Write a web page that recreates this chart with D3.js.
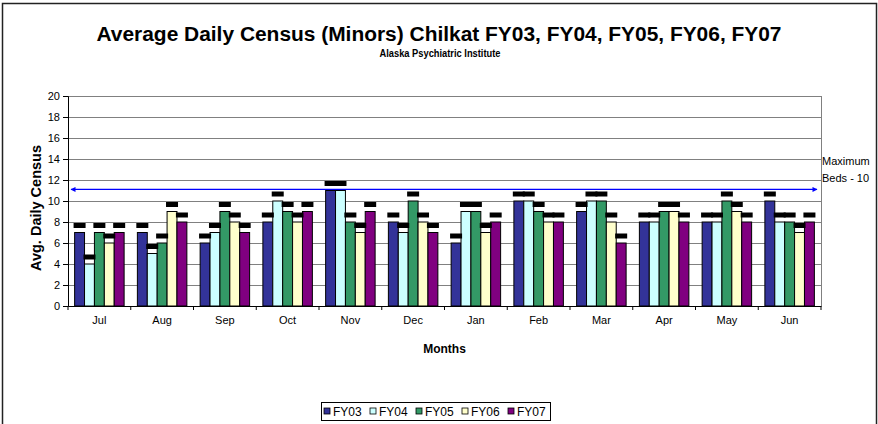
<!DOCTYPE html>
<html>
<head>
<meta charset="utf-8">
<script src="https://cdn.jsdelivr.net/npm/d3@7"></script>
<style>
  body { margin: 0; background: #fff; }
  svg { display: block; font-family: Arial, "Liberation Sans", sans-serif; }
</style>
</head>
<body>
<svg id="chart" width="878" height="424"></svg>
<script>
// chart data
var months = ["Jul", "Aug", "Sep", "Oct", "Nov", "Dec", "Jan", "Feb", "Mar", "Apr", "May", "Jun"];
var seriesNames = ["FY03", "FY04", "FY05", "FY06", "FY07"];
var fy03 = [7, 7, 6, 8, 11, 8, 6, 10, 9, 8, 8, 10];
var fy04 = [4, 5, 7, 10, 11, 7, 9, 10, 10, 8, 8, 8];
var fy05 = [7, 6, 9, 9, 8, 10, 9, 9, 10, 9, 10, 8];
var fy06 = [6, 9, 8, 8, 7, 8, 7, 8, 8, 9, 9, 7];
var fy07 = [7, 8, 7, 9, 9, 7, 8, 8, 6, 8, 8, 8];
var yTicks = [0, 2, 4, 6, 8, 10, 12, 14, 16, 18, 20];
var maxBedsLevel = 11.1;
var maxBedsText = ["Maximum", "Beds - 10"];
var colors = ["#333399", "#CCFFFF", "#339966", "#FFFFCC", "#800080"];

var seriesValues = [fy03, fy04, fy05, fy06, fy07];

var svg = d3.select("#chart");

// outer chart border
svg.append("rect")
    .attr("x", 2.5).attr("y", 3.5)
    .attr("width", 874).attr("height", 440)
    .attr("fill", "none")
    .attr("stroke", "#222")
    .attr("stroke-width", 1.5);

// titles
svg.append("text")
    .attr("x", 439).attr("y", 41)
    .attr("text-anchor", "middle")
    .attr("textLength", 685)
    .attr("lengthAdjust", "spacingAndGlyphs")
    .style("font-size", "20px")
    .style("font-weight", "bold")
    .text("Average Daily Census (Minors) Chilkat FY03, FY04, FY05, FY06, FY07");
svg.append("text")
    .attr("x", 440).attr("y", 57)
    .attr("text-anchor", "middle")
    .attr("textLength", 121)
    .attr("lengthAdjust", "spacingAndGlyphs")
    .style("font-size", "11.5px")
    .style("font-weight", "bold")
    .text("Alaska Psychiatric Institute");

// scales
var pLeft = 68, pRight = 821, pTop = 96, pBottom = 306;
var y = d3.scaleLinear().domain([0, 20]).range([pBottom, pTop]);
var x0 = d3.scaleBand().domain(months).range([pLeft, pRight]).padding(0);
var x1 = d3.scaleBand().domain(seriesNames).range([0, x0.bandwidth()])
    .paddingInner(0).paddingOuter(0.67);

// gridlines
svg.append("g").selectAll("line")
    .data(yTicks.filter(function(d) { return d > 0; }))
    .enter().append("line")
    .attr("x1", pLeft).attr("x2", pRight)
    .attr("y1", function(d) { return Math.round(y(d)) + 0.5; })
    .attr("y2", function(d) { return Math.round(y(d)) + 0.5; })
    .attr("stroke", "#808080")
    .attr("stroke-width", 1);

// right border of plot
svg.append("line")
    .attr("x1", pRight + 0.5).attr("x2", pRight + 0.5)
    .attr("y1", pTop).attr("y2", pBottom)
    .attr("stroke", "#808080");

// y axis
var yAxis = d3.axisLeft(y).tickValues(yTicks).tickSize(5).tickPadding(3);
var gY = svg.append("g").attr("transform", "translate(" + pLeft + ",0)").call(yAxis);
gY.select(".domain").attr("stroke", "#000");
gY.selectAll("text").style("font-size", "11px").attr("fill", "#000");

// bars
var groups = svg.append("g").selectAll("g")
    .data(months)
    .enter().append("g")
    .attr("transform", function(d) { return "translate(" + x0(d) + ",0)"; });

groups.selectAll("rect.bar")
    .data(function(m, i) {
        return seriesNames.map(function(s, j) {
            return { series: s, value: seriesValues[j][i], color: colors[j] };
        });
    })
    .enter().append("rect")
    .attr("class", "bar")
    .attr("x", function(d) { return x1(d.series); })
    .attr("y", function(d) { return y(d.value); })
    .attr("width", x1.bandwidth())
    .attr("height", function(d) { return y(0) - y(d.value); })
    .attr("fill", function(d) { return d.color; })
    .attr("stroke", "#000")
    .attr("stroke-width", 1);

// data labels (rendered as black blocks)
groups.selectAll("rect.lbl")
    .data(function(m, i) {
        return seriesNames.map(function(s, j) {
            return { series: s, value: seriesValues[j][i] };
        });
    })
    .enter().append("rect")
    .attr("class", "lbl")
    .attr("x", function(d) { return x1(d.series) + x1.bandwidth() / 2 - 6; })
    .attr("y", function(d) { return y(d.value) - 9.5; })
    .attr("width", 12)
    .attr("height", 5)
    .attr("fill", "#000");

// x axis
var xAxis = d3.axisBottom(x0).tickSize(0).tickPadding(10);
var gX = svg.append("g").attr("transform", "translate(0," + pBottom + ")").call(xAxis);
gX.select(".domain").attr("stroke", "#000");
gX.selectAll("text").style("font-size", "11px").attr("fill", "#000");
svg.append("g").selectAll("line")
    .data(months.concat(["end"]))
    .enter().append("line")
    .attr("x1", function(d) { return d === "end" ? pRight : x0(d); })
    .attr("x2", function(d) { return d === "end" ? pRight : x0(d); })
    .attr("y1", pBottom).attr("y2", pBottom + 4)
    .attr("stroke", "#000");

// max beds line with arrows
var defs = svg.append("defs");
defs.append("marker")
    .attr("id", "arrowEnd")
    .attr("viewBox", "0 0 10 10")
    .attr("refX", 9).attr("refY", 5)
    .attr("markerWidth", 8).attr("markerHeight", 5)
    .attr("markerUnits", "userSpaceOnUse")
    .attr("orient", "auto-start-reverse")
    .append("path").attr("d", "M0,0 L10,5 L0,10 z").attr("fill", "#0000FF");
svg.append("line")
    .attr("x1", 71).attr("x2", 817)
    .attr("y1", y(maxBedsLevel)).attr("y2", y(maxBedsLevel))
    .attr("stroke", "#0000FF")
    .attr("stroke-width", 1.2)
    .attr("marker-start", "url(#arrowEnd)")
    .attr("marker-end", "url(#arrowEnd)");
svg.append("g").selectAll("text")
    .data(maxBedsText)
    .enter().append("text")
    .attr("x", 822)
    .attr("y", function(d, i) { return 165 + i * 17; })
    .style("font-size", "11px")
    .text(function(d) { return d; });

// axis titles
svg.append("text")
    .attr("x", (pLeft + pRight) / 2).attr("y", 353)
    .attr("text-anchor", "middle")
    .style("font-size", "12px").style("font-weight", "bold")
    .text("Months");
svg.append("text")
    .attr("transform", "translate(41," + ((pTop + pBottom) / 2 + 7) + ") rotate(-90)")
    .attr("text-anchor", "middle")
    .style("font-size", "14.5px").style("font-weight", "bold")
    .text("Avg. Daily Census");

// legend
var legend = svg.append("g");
legend.append("rect")
    .attr("x", 321.5).attr("y", 402.5)
    .attr("width", 229).attr("height", 18)
    .attr("fill", "#fff").attr("stroke", "#000");
var items = legend.selectAll("g.item")
    .data(seriesNames)
    .enter().append("g")
    .attr("class", "item")
    .attr("transform", function(d, i) { return "translate(" + (324 + i * 46) + ",408)"; });
items.append("rect")
    .attr("width", 6).attr("height", 6)
    .attr("fill", function(d, i) { return colors[i]; })
    .attr("stroke", "#000").attr("stroke-width", 0.8);
items.append("text")
    .attr("x", 9).attr("y", 7.5)
    .style("font-size", "12px")
    .text(function(d) { return d; });
</script>
</body>
</html>
